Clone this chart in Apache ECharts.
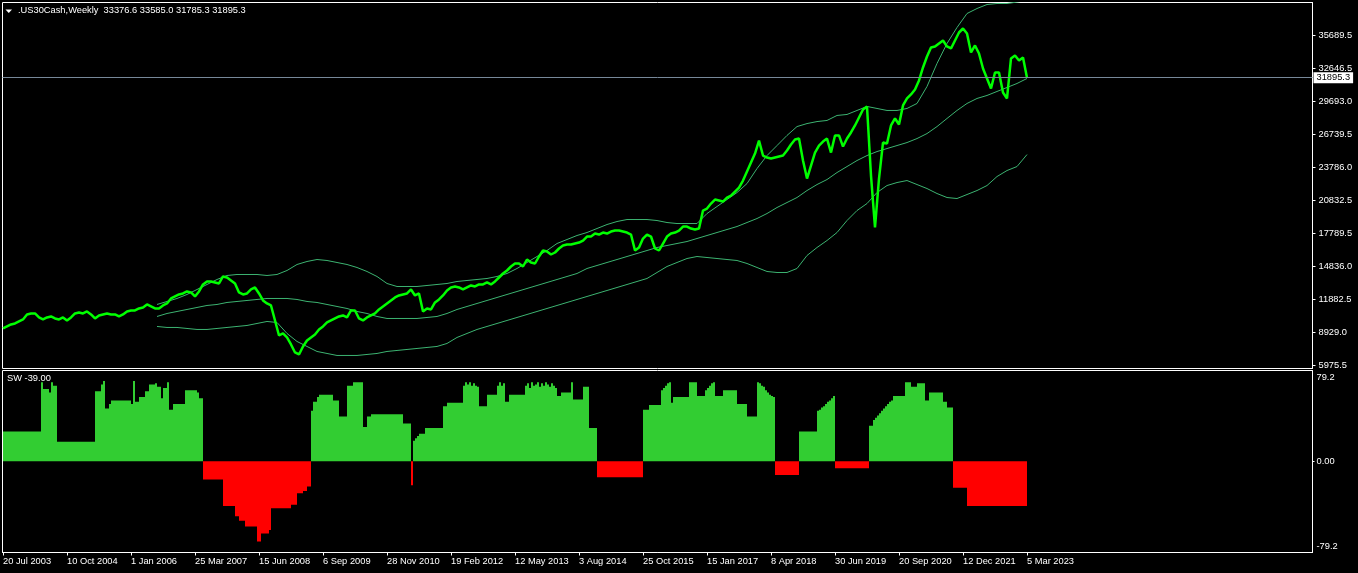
<!DOCTYPE html>
<html><head><meta charset="utf-8">
<script src="https://cdn.jsdelivr.net/npm/echarts@6.0.0/dist/echarts.min.js"></script>
<style>html,body{margin:0;padding:0;background:#000;}#c{width:1358px;height:573px;}</style>
</head><body><div id="c"></div>
<script>
const symbolName = '.US30Cash,Weekly';
const lastOHLC = [33376.6, 33585.0, 31785.3, 31895.3];
const indicatorName = 'SW';

const xTickLabels = ['20 Jul 2003','10 Oct 2004','1 Jan 2006','25 Mar 2007','15 Jun 2008','6 Sep 2009','28 Nov 2010','19 Feb 2012','12 May 2013','3 Aug 2014','25 Oct 2015','15 Jan 2017','8 Apr 2018','30 Jun 2019','20 Sep 2020','12 Dec 2021','5 Mar 2023'];
const xTickWeeks = 64;
const yTickLabels = ['5975.5','8929.0','11882.5','14836.0','17789.5','20832.5','23786.0','26739.5','29693.0','32646.5','35689.5'];
const yTickFirst = 5975.5, yTickStep = 2971.4;
const swTickLabels = ['-79.2','0.00','79.2'];
const swTickValues = [-79.2, 0, 79.2];

// weekly close, one sample every 4 weeks starting 20 Jul 2003
const PRICE_STEP = 4;
const price = [
9310,9490,9670,9760,9940,10120,10570,10660,10660,10300,
10120,10300,10390,10210,10120,10300,10030,10300,10660,10750,
10660,10840,10570,10210,10480,10570,10660,10570,10570,10390,
10570,10840,10930,10930,11110,11200,11470,11290,11110,11110,
11380,11560,12010,12190,12370,12460,12640,12550,12190,12640,
13270,13540,13540,13450,13360,13990,13900,13630,13360,12550,
12370,12460,12820,13000,12460,11830,11560,11380,10030,8680,
8860,8500,7870,7150,6970,7690,8230,8500,8770,9220,
9490,9850,10030,10210,10390,10480,10300,10930,10930,10210,
10030,10300,10480,10660,11020,11290,11560,11830,12100,12280,
12370,12460,12820,12280,12460,10840,11110,11020,11650,11920,
12280,12730,13000,13090,13000,12820,13000,13180,13090,13270,
13270,13450,13270,13540,13900,14260,14530,14890,15160,15160,
14890,15520,15250,15160,15790,16330,16240,15970,16150,16510,
16780,16870,16870,16960,17050,17230,17590,17590,17860,17770,
17950,17860,18040,18130,18130,18040,17950,17770,16330,16600,
17410,17770,17590,16510,16330,16960,17590,17860,17950,18130,
18490,18490,18310,18220,18310,19930,20110,20560,20920,20830,
20740,21100,21280,21640,22000,22630,23440,24250,25060,26230,
24880,24700,24610,24700,24790,24880,25330,25870,26320,26410,
24430,22810,23980,25150,25780,26140,26410,25150,26690,26690,
25690,26410,26960,27590,28310,29030,29300,23080,18400,22810,
26050,25960,27590,28220,27680,29390,30020,30380,30830,31640,
32810,33800,34610,34700,34970,35240,34700,34520,35240,35960,
36320,35870,34160,34790,34070,32720,31820,30920,32360,32360,
30560,30020,33620,33890,33440,33710,31895.3
];

// envelope lines, one sample every 10 weeks starting at week 154
const BAND_START = 154, BAND_STEP = 10;
const upperBand = [
11470,11740,12010,12370,12820,13270,13720,14080,14170,14170,
14170,14080,14170,14530,15070,15340,15520,15430,15250,15070,
14800,14440,13990,13360,13090,13090,13090,13180,13270,13360,
13540,13630,13720,13810,13990,14260,14710,15250,15790,16330,
16960,17320,17680,17950,18310,18670,18940,19120,19120,19120,
19030,18850,18760,18760,18760,19660,20290,20920,21550,22360,
23710,24880,25780,26690,27490,27760,27940,28040,28490,28580,
28940,29300,29120,28940,28940,29120,29570,31100,33170,34970,
36410,37670,38120,38480,38570,38570,38700,38840
];
const middleBand = [
10390,10660,10840,11020,11200,11380,11470,11650,11740,11830,
11920,12010,12010,12010,11920,11740,11650,11470,11290,11110,
10840,10660,10390,10210,10210,10210,10210,10300,10390,10660,
11020,11290,11560,11830,12100,12370,12640,12910,13180,13450,
13720,13990,14260,14710,14980,15250,15520,15790,16060,16330,
16600,16780,16960,17140,17410,17680,17950,18220,18490,18850,
19210,19660,20200,20650,21100,21730,22270,22720,23350,23890,
24430,24880,25240,25510,25780,26050,26410,26860,27490,28220,
28940,29570,30020,30290,30650,31010,31370,31820
];
const lowerBand = [
9490,9400,9400,9310,9220,9220,9310,9400,9490,9580,
9760,9940,9850,8860,8140,7690,7240,7060,6880,6880,
6880,6970,7060,7240,7330,7420,7510,7600,7690,7960,
8500,8860,9220,9490,9760,10030,10300,10570,10840,11110,
11380,11650,11920,12190,12460,12730,13000,13270,13540,13810,
14350,14890,15250,15610,15790,15700,15610,15520,15430,15160,
14800,14440,14350,14350,14710,15880,16600,17230,17950,19030,
19930,20560,21550,22180,22450,22630,22270,21910,21460,21100,
21010,21370,21730,22180,22990,23530,23890,24970
];

// SW histogram, one sample every 2 weeks starting at week 1
const SW_START = 1, SW_STEP = 2;
const sw = [
26,26,26,26,26,26,26,26,26,26,26,26,26,26,26,26,26,26,26,
69,63,63,63,60,69,66,66,
17,17,17,17,17,17,17,17,17,17,17,17,17,17,17,17,17,17,17,
61,61,61,67,70,46,46,50,
53,53,53,53,53,53,53,53,53,53,
50,70,52,52,56,56,56,61,61,67,67,67,68,65,65,55,64,64,69,45,45,
50,50,50,50,50,50,
62,62,62,62,62,62,
60,55,55,
-16,-16,-16,-16,-16,-16,-16,-16,-16,-16,
-39,-39,-39,-39,-39,-39,
-48,-48,-52,-52,-52,
-57,-57,-57,-57,-57,-57,
-70,-70,-63,-63,-63,-63,-60,
-41,-41,-41,-41,-41,-41,-41,-41,-41,-41,
-38,-38,-38,-28,-28,-28,-26,-26,-22,-22,
44,52,52,56,
58,58,58,58,58,58,58,
53,53,53,39,39,39,39,66,66,66,
69,69,69,69,69,
30,30,39,39,
41,41,41,41,41,41,41,41,41,41,41,41,41,41,41,41,
33,33,33,33,-21,18,20,22,24,24,24,
29,29,29,29,29,29,29,29,29,
48,48,
51,51,51,51,51,51,51,51,
66,69,67,69,66,68,66,65,
48,48,48,48,
58,58,58,58,58,
66,69,66,68,52,52,
58,58,58,58,58,58,58,58,
66,68,64,69,66,67,69,65,68,66,69,67,65,68,66,64,
57,57,60,60,60,60,60,69,
54,54,54,54,54,
65,65,65,29,29,29,29,
-14,-14,-14,-14,-14,-14,-14,-14,-14,-14,-14,-14,-14,-14,-14,-14,-14,-14,-14,-14,-14,-14,-14,
45,45,45,
49,49,49,49,49,49,
62,64,66,68,69,51,
56,56,56,56,56,56,56,56,
69,69,69,69,57,57,57,57,
62,64,66,68,69,57,57,57,57,
62,62,62,62,62,62,62,
50,50,50,50,50,
39,39,39,39,39,
69,68,66,65,62,60,58,57,56,
-12,-12,-12,-12,-12,-12,-12,-12,-12,-12,-12,-12,
26,26,26,26,26,26,26,26,26,
44,45,47,48,50,52,53,55,57,
-6,-6,-6,-6,-6,-6,-6,-6,-6,-6,-6,-6,-6,-6,-6,-6,-6,
31,31,36,38,40,42,44,46,48,50,52,53,
57,57,57,57,57,57,
69,69,69,65,65,65,68,68,68,68,53,53,
60,60,60,60,60,60,60,
52,52,47,47,47,
-23,-23,-23,-23,-23,-23,-23,
-39,-39,-39,-39,-39,-39,-39,-39,-39,-39,-39,-39,-39,-39,-39,-39,-39,-39,-39,-39,-39,-39,-39,-39,-39,-39,-39,-39,-39,-39
];

const FONT = '"Liberation Sans", Arial, sans-serif';
const FS = 9.3;
const txt = {color:'#fff', fontSize:FS, fontFamily:FONT, fontWeight:'normal'};

const priceData = price.map((v,i)=>[i*PRICE_STEP, v]);
const bandData = arr => arr.map((v,k)=>[BAND_START + k*BAND_STEP, v]);
const swData = sw.map((v,j)=>[SW_START + j*SW_STEP, v]);
const xTickVals = xTickLabels.map((_,i)=>i*xTickWeeks);
const yTickVals = yTickLabels.map((_,k)=>yTickFirst + k*yTickStep);
const lastClose = lastOHLC[3];

const chart = echarts.init(document.getElementById('c'), null, {renderer:'canvas'});
chart.setOption({
  animation:false,
  backgroundColor:'#000',
  title:[
    {text: symbolName + '  ' + lastOHLC.map(v=>v.toFixed(1)).join(' '), left:18, top:5.5, padding:0, textStyle:txt},
    {text: indicatorName + ' ' + sw[sw.length-1].toFixed(2), left:7, top:374, padding:0, textStyle:txt}
  ],
  graphic:[{type:'polygon', shape:{points:[[5.5,9.5],[12,9.5],[8.75,13]]}, style:{fill:'#fff'}}],
  grid:[
    {left:2.5, right:45.5, top:2.5, height:366, show:true, borderColor:'#fff', borderWidth:1, backgroundColor:'transparent'},
    {left:2.5, right:45.5, top:370.5, height:182, show:true, borderColor:'#fff', borderWidth:1, backgroundColor:'transparent'}
  ],
  xAxis:[
    {type:'value', gridIndex:0, min:-0.5, max:1309.5, show:false, axisLine:{onZero:false}},
    {type:'value', gridIndex:1, min:-0.5, max:1309.5,
     axisLine:{show:true, onZero:false, lineStyle:{color:'#fff'}},
     axisTick:{show:true, customValues:xTickVals, length:3, lineStyle:{color:'#fff'}},
     axisLabel:{show:true, customValues:xTickVals, align:'left', margin:4, color:'#fff', fontSize:FS, fontFamily:FONT,
       formatter:v=>xTickLabels[Math.round(v/xTickWeeks)] || ''},
     splitLine:{show:false}}
  ],
  yAxis:[
    {type:'value', gridIndex:0, position:'right', min:5705.4, max:38660.9,
     axisLine:{show:true, onZero:false, lineStyle:{color:'#fff'}},
     axisTick:{show:true, customValues:yTickVals, length:3, lineStyle:{color:'#fff'}},
     axisLabel:{show:true, customValues:yTickVals, margin:6, color:'#fff', fontSize:FS, fontFamily:FONT,
       formatter:v=>{const k=Math.round((v-yTickFirst)/yTickStep); return yTickLabels[k]||'';}},
     splitLine:{show:false}},
    {type:'value', gridIndex:1, position:'right', min:-79.6, max:79.2,
     axisLine:{show:true, onZero:false, lineStyle:{color:'#fff'}},
     axisTick:{show:true, customValues:[0], length:2, lineStyle:{color:'#fff'}},
     axisLabel:{show:true, customValues:swTickValues, margin:4, color:'#fff', fontSize:FS, fontFamily:FONT,
       formatter:v=>{const i=swTickValues.indexOf(v); const s=swTickLabels[i]; if(v>0) return '{t|'+s+'}'; if(v<0) return '{b|'+s+'}'; return s;},
       rich:{t:{padding:[13,0,0,0], color:'#fff', fontSize:FS, fontFamily:FONT},
             b:{padding:[0,0,12,0], color:'#fff', fontSize:FS, fontFamily:FONT}}},
     splitLine:{show:false}}
  ],
  series:[
    {type:'line', name:'upper', xAxisIndex:0, yAxisIndex:0, data:bandData(upperBand), symbol:'none', silent:true,
     lineStyle:{color:'#3CB371', width:1}},
    {type:'line', name:'middle', xAxisIndex:0, yAxisIndex:0, data:bandData(middleBand), symbol:'none', silent:true,
     lineStyle:{color:'#3CB371', width:1}},
    {type:'line', name:'lower', xAxisIndex:0, yAxisIndex:0, data:bandData(lowerBand), symbol:'none', silent:true,
     lineStyle:{color:'#3CB371', width:1}},
    {type:'line', name:'price', xAxisIndex:0, yAxisIndex:0, data:priceData, symbol:'none', silent:true, z:3,
     lineStyle:{color:'#00FF00', width:2.5},
     markLine:{silent:true, symbol:['none','none'], animation:false,
       lineStyle:{color:'#778899', width:1, type:'solid'},
       label:{show:true, position:'end', distance:1, formatter:lastClose.toFixed(1), color:'#000', backgroundColor:'#fff',
         padding:[1,3,0,3], fontSize:FS, fontFamily:FONT, lineHeight:10},
       data:[{yAxis:lastClose}]}},
    {type:'bar', name:'SW', xAxisIndex:1, yAxisIndex:1, data:swData, barWidth:2, silent:true,
     itemStyle:{color:p=>p.value[1]>=0?'#32CD32':'#FF0000'}}
  ]
});
</script></body></html>
